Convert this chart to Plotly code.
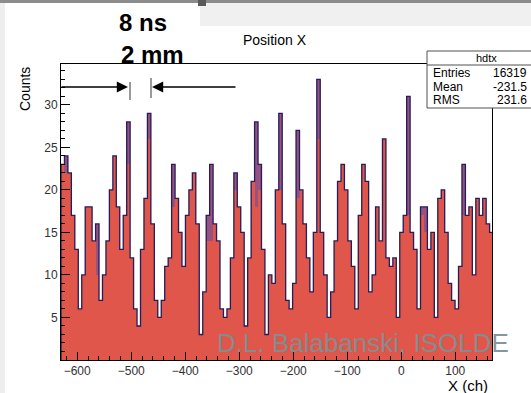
import plotly.graph_objects as go

# ---------------- data ----------------
BIN_START = -630.0
BIN_WIDTH = 6.4

counts_fill = [
    23, 22, 22, 17, 13, 6, 10, 18, 18, 14,
    10, 7, 10, 14, 20, 24, 18, 13, 17, 23,
    12, 6, 4, 13, 19, 26, 16, 7, 5, 7,
    11, 12, 18, 19, 15, 11, 17, 20, 22, 16,
    3, 8, 14, 14, 16, 14, 6, 5, 6, 12,
    20, 18, 15, 4, 12, 21, 18, 20, 13, 3,
    10, 9, 20, 20, 16, 7, 6, 9, 19, 20,
    16, 12, 8, 15, 26, 15, 10, 5, 8, 14,
    21, 23, 20, 14, 11, 6, 17, 23, 21, 8,
    10, 18, 14, 26, 12, 11, 12, 5, 15, 17,
    17, 15, 13, 6, 17, 15, 13, 15, 5, 19,
    20, 15, 9, 7, 6, 11, 17, 17, 18, 10,
    19, 17, 19, 16, 15,
]

counts_line = [
    23, 24, 22, 17, 13, 6, 10, 18, 18, 14,
    16, 7, 10, 14, 20, 24, 18, 13, 17, 28,
    12, 6, 4, 13, 19, 29, 16, 7, 5, 7,
    11, 12, 23, 19, 15, 11, 17, 20, 22, 16,
    3, 8, 17, 23, 16, 14, 6, 5, 6, 12,
    22, 18, 15, 4, 12, 21, 28, 23, 13, 3,
    10, 9, 20, 29, 16, 7, 6, 9, 27, 20,
    16, 12, 8, 15, 33, 15, 10, 5, 8, 14,
    21, 23, 20, 14, 11, 6, 17, 23, 21, 8,
    10, 18, 14, 26, 12, 11, 12, 5, 15, 17,
    31, 15, 13, 6, 18, 18, 13, 15, 5, 19,
    20, 15, 9, 7, 6, 11, 23, 17, 18, 10,
    19, 17, 19, 16, 15,
]

x_tick_vals = [-600, -500, -400, -300, -200, -100, 0, 100]
y_tick_vals = [5, 10, 15, 20, 25, 30]

stats_title = "hdtx"
stats_rows = [("Entries", "16319"), ("Mean", "-231.5"), ("RMS", "231.6")]

# ---------------- geometry helpers ----------------
n = len(counts_fill)
centers = [BIN_START + BIN_WIDTH * (i + 0.5) for i in range(n)]
edges = [BIN_START + BIN_WIDTH * i for i in range(n + 1)]

W, H = 531, 393
L, R, T, B = 61, 492, 64, 360


def px(x):
    return (x - L) / (R - L)


def py(y):
    return (B - y) / (B - T)


RED = "rgb(224,86,74)"
PURPLE = "rgb(150,82,130)"
NAVY = "rgb(38,28,88)"
FONT = "Liberation Sans, Arial, sans-serif"

fig = go.Figure()
fig.add_trace(go.Bar(x=centers, y=counts_line, width=BIN_WIDTH,
                     marker=dict(color=PURPLE, line=dict(width=0)),
                     showlegend=False, hoverinfo="skip"))
fig.add_trace(go.Bar(x=centers, y=counts_fill, width=BIN_WIDTH,
                     marker=dict(color=RED, line=dict(width=0)),
                     showlegend=False))
step_x = [edges[0]] + edges[:-1] + [edges[-1], edges[-1]]
step_y = [0] + counts_line + [counts_line[-1], 0]
fig.add_trace(go.Scatter(x=step_x, y=step_y, mode="lines",
                         line=dict(color=NAVY, width=1.3, shape="hv"),
                         showlegend=False, hoverinfo="skip"))

shapes = []
# top grey band and light strips
shapes.append(dict(type="rect", xref="paper", yref="paper",
                   x0=px(-5), x1=px(540), y0=py(-5), y1=py(3),
                   fillcolor="rgb(140,140,140)", line=dict(width=0), layer="below"))
shapes.append(dict(type="rect", xref="paper", yref="paper",
                   x0=px(200), x1=px(540), y0=py(3), y1=py(26),
                   fillcolor="rgb(240,240,240)", line=dict(width=0), layer="below"))
shapes.append(dict(type="rect", xref="paper", yref="paper",
                   x0=px(-5), x1=px(5), y0=py(3), y1=py(400),
                   fillcolor="rgb(238,238,238)", line=dict(width=0), layer="below"))
shapes.append(dict(type="rect", xref="paper", yref="paper",
                   x0=px(198), x1=px(206), y0=py(0), y1=py(6),
                   fillcolor="rgb(90,90,90)", line=dict(width=0), layer="above"))
# stats box
shapes.append(dict(type="rect", xref="paper", yref="paper",
                   x0=px(427), x1=px(540), y0=py(108), y1=py(51),
                   fillcolor="white", line=dict(color="rgb(80,80,80)", width=1), layer="above"))
shapes.append(dict(type="line", xref="paper", yref="paper",
                   x0=px(427), x1=px(540), y0=py(65), y1=py(65),
                   line=dict(color="rgb(80,80,80)", width=1), layer="above"))
# grey marker lines
shapes.append(dict(type="line", xref="paper", yref="paper",
                   x0=px(130), x1=px(130), y0=py(82), y1=py(100),
                   line=dict(color="rgb(120,120,120)", width=1.5), layer="above"))
shapes.append(dict(type="line", xref="paper", yref="paper",
                   x0=px(151), x1=px(151), y0=py(78), y1=py(98),
                   line=dict(color="rgb(120,120,120)", width=1.5), layer="above"))

ann = []
ann.append(dict(xref="paper", yref="paper", x=px(128), y=py(87), ax=-68, ay=0,
                text="", showarrow=True, arrowhead=2, arrowsize=1.6,
                arrowwidth=1.4, arrowcolor="black"))
ann.append(dict(xref="paper", yref="paper", x=px(152), y=py(87), ax=85, ay=0,
                text="", showarrow=True, arrowhead=2, arrowsize=1.6,
                arrowwidth=1.4, arrowcolor="black"))
ann.append(dict(xref="paper", yref="paper", x=px(143), y=py(22), text="<b>8 ns</b>",
                showarrow=False, font=dict(family=FONT, size=24, color="black"),
                xanchor="center", yanchor="middle"))
ann.append(dict(xref="paper", yref="paper", x=px(152), y=py(54), text="<b>2 mm</b>",
                showarrow=False, font=dict(family=FONT, size=24, color="black"),
                xanchor="center", yanchor="middle"))
ann.append(dict(xref="paper", yref="paper", x=px(275), y=py(40), text="Position X",
                showarrow=False, font=dict(family=FONT, size=14, color="black"),
                xanchor="center", yanchor="middle"))
ann.append(dict(xref="paper", yref="paper", x=px(25), y=py(89), text="Counts",
                textangle=-90, showarrow=False,
                font=dict(family=FONT, size=14, color="black"),
                xanchor="center", yanchor="middle"))
ann.append(dict(xref="paper", yref="paper", x=px(468), y=py(385), text="X (ch)",
                showarrow=False, font=dict(family=FONT, size=15, color="black"),
                xanchor="center", yanchor="middle"))
ann.append(dict(xref="paper", yref="paper", x=px(486), y=py(58), text=stats_title,
                showarrow=False, font=dict(family=FONT, size=11, color="black"),
                xanchor="center", yanchor="middle"))
for k, (lab, val) in enumerate(stats_rows):
    yy = 73 + 13.5 * k
    ann.append(dict(xref="paper", yref="paper", x=px(431), y=py(yy), text=lab,
                    showarrow=False, font=dict(family=FONT, size=12, color="black"),
                    xanchor="left", yanchor="middle"))
    ann.append(dict(xref="paper", yref="paper", x=px(529), y=py(yy), text=val,
                    showarrow=False, font=dict(family=FONT, size=12, color="black"),
                    xanchor="right", yanchor="middle"))
ann.append(dict(xref="paper", yref="paper", x=px(363), y=py(343),
                text="D.L. Balabanski, ISOLDE", showarrow=False,
                font=dict(family=FONT, size=26, color="rgba(125,145,148,0.95)"),
                xanchor="center", yanchor="middle"))

fig.update_layout(
    width=W, height=H,
    margin=dict(l=L, r=W - R, t=T, b=H - B),
    paper_bgcolor="white", plot_bgcolor="white",
    barmode="overlay", bargap=0,
    showlegend=False,
    shapes=shapes, annotations=ann,
    xaxis=dict(range=[BIN_START, 168], tickvals=x_tick_vals,
               ticks="inside", ticklen=8, tickcolor="black",
               showline=True, linecolor="black", linewidth=1, mirror=True,
               showgrid=False, zeroline=False,
               tickfont=dict(family=FONT, size=12, color="rgb(50,50,50)"),
               minor=dict(dtick=20, ticks="inside", ticklen=4, tickcolor="black")),
    yaxis=dict(range=[0, 34.8], tickvals=y_tick_vals,
               ticks="inside", ticklen=9, tickcolor="black",
               showline=True, linecolor="black", linewidth=1, mirror=True,
               showgrid=False, zeroline=False,
               tickfont=dict(family=FONT, size=12, color="rgb(50,50,50)"),
               minor=dict(dtick=1, ticks="inside", ticklen=4, tickcolor="black")),
)

fig.write_html("out.html")
